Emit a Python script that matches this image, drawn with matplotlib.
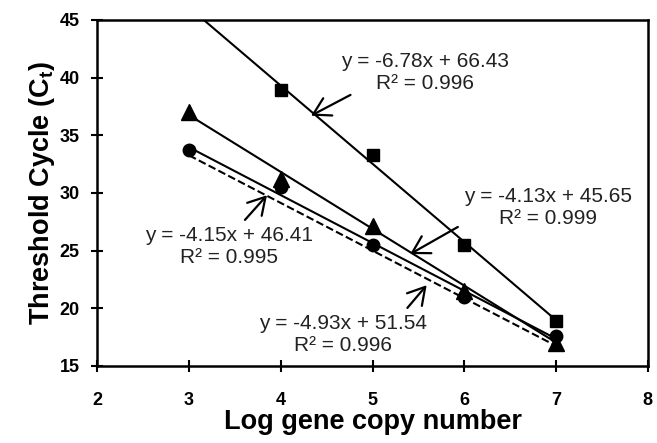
import numpy as np
import matplotlib.pyplot as plt

plt.rcParams['font.family'] = ['Liberation Sans', 'DejaVu Sans']

# measured Ct values
x_sq = [4, 5, 6, 7]
ct_sq = [38.9, 33.3, 25.5, 18.9]
x_tri = [3, 4, 5, 6, 7]
ct_tri = [37.0, 31.2, 27.1, 21.5, 17.0]
x_circ = [3, 4, 5, 6, 7]
ct_circ = [33.7, 30.5, 25.5, 21.0, 17.6]

# trendline coefficients (slope, intercept)
fit_sq = (-6.78, 66.43)
fit_tri = (-4.93, 51.54)
fit_circ = (-4.15, 46.41)
fit_dash = (-4.13, 45.65)
fit_range = [3, 7]

labels = ["y = -6.78x + 66.43\nR² = 0.996",
          "y = -4.13x + 45.65\nR² = 0.999",
          "y = -4.15x + 46.41\nR² = 0.995",
          "y = -4.93x + 51.54\nR² = 0.996"]
label_pos = [(5.57, 40.4), (6.91, 28.7), (3.44, 25.35), (4.68, 17.75)]
arrow_tail = [(4.76, 38.5), (5.93, 27.05), (3.61, 27.66), (5.38, 20.03)]
arrow_tip = [(4.33, 36.7), (5.41, 24.7), (3.85, 29.8), (5.59, 22.0)]

fig = plt.figure(figsize=(6.57, 4.43), dpi=100)
ax = fig.add_axes([0.148, 0.174, 0.838, 0.781])

xr = np.array(fit_range, dtype=float)
for (m, b), ls in [(fit_sq, '-'), (fit_tri, '-'), (fit_circ, '-'), (fit_dash, '--')]:
    ax.plot(xr, m * xr + b, color='black', lw=1.5, ls=ls)

ax.plot(x_sq, ct_sq, 's', color='black', ms=9)
ax.plot(x_tri, ct_tri, '^', color='black', ms=11)
ax.plot(x_circ, ct_circ, 'o', color='black', ms=9)

for txt, pos, tail, tip in zip(labels, label_pos, arrow_tail, arrow_tip):
    ax.text(pos[0], pos[1], txt, ha='center', va='center', fontsize=15,
            color='#222222', linespacing=1.2)
    ax.annotate('', xy=tip, xytext=tail,
                arrowprops=dict(arrowstyle='->,head_length=0.6,head_width=0.35',
                                color='black', lw=1.6, mutation_scale=20,
                                shrinkA=0, shrinkB=0))

ax.set_xlim(2, 8)
ax.set_ylim(15, 45)
ax.set_xticks(range(2, 9))
ax.set_yticks(range(15, 46, 5))
ax.tick_params(direction='inout', length=9, width=1.5, labelsize=13)
ax.tick_params(axis='x', pad=14)
ax.tick_params(axis='y', pad=8)
for lab in ax.get_xticklabels() + ax.get_yticklabels():
    lab.set_fontweight('bold')
for sp in ax.spines.values():
    sp.set_linewidth(1.8)

ax.set_xlabel("Log gene copy number", fontsize=19.5, fontweight='bold', labelpad=0)
ax.set_ylabel("Threshold Cycle (C$_\\mathregular{t}$)", fontsize=19.5, fontweight='bold', labelpad=2)

fig.savefig('out.png', dpi=100)
